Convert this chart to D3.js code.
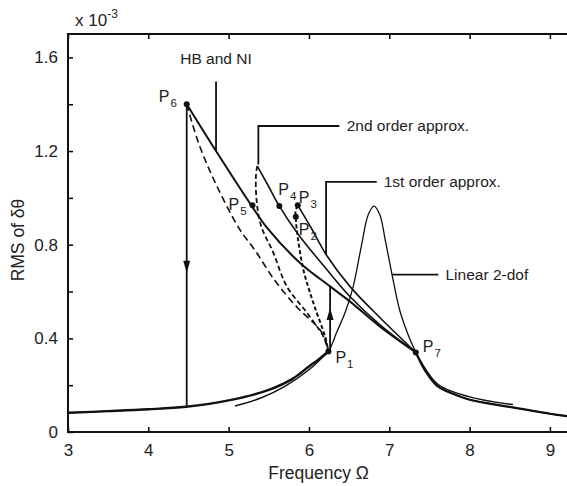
<!DOCTYPE html>
<html>
<head>
<meta charset="utf-8">
<script src="https://cdn.jsdelivr.net/npm/d3@7"></script>
<style>
  body { margin: 0; background: #fff; }
  svg { display: block; font-family: "Liberation Sans", Arial, sans-serif; }
</style>
</head>
<body>
<div id="container"></div>
<script>
/* CONSTANTS AND GLOBALS */
const width = 567,
  height = 486,
  margin = ({top: 34, right: -3, bottom: 54, left: 68});

// tick values
const xTicks = [3, 4, 5, 6, 7, 8, 9];
const yTicks = [0, 0.2, 0.4, 0.6, 0.8, 1.0, 1.2, 1.4, 1.6];
const yLabelTicks = [0, 0.4, 0.8, 1.2, 1.6];

// linear 2-dof response (RMS x 1e-3)
const linearOmega = [3.0, 3.5, 4.0, 4.47, 5.0, 5.5, 5.8, 6.0, 6.12, 6.24, 6.35, 6.45, 6.55, 6.65, 6.74, 6.81, 6.88, 6.95, 7.03, 7.13, 7.23, 7.33, 7.45, 7.6, 7.8, 8.0, 8.5, 9.0, 9.25];
const linearRms   = [0.082, 0.089, 0.097, 0.108, 0.135, 0.18, 0.228, 0.28, 0.31, 0.344, 0.43, 0.51, 0.62, 0.79, 0.93, 0.965, 0.93, 0.82, 0.68, 0.52, 0.42, 0.34, 0.26, 0.196, 0.162, 0.138, 0.107, 0.078, 0.066];

// HB and NI upper branch (P6 -> P7)
const hbOmega = [4.478, 4.843, 5.288, 5.474, 5.889, 6.263, 6.512, 6.885, 7.33];
const hbRms   = [1.40, 1.20, 0.965, 0.874, 0.722, 0.622, 0.557, 0.45, 0.34];
// HB unstable branch (P6 -> P1)
const hbDashOmega = [4.478, 4.63, 4.84, 5.13, 5.34, 5.58, 5.86, 6.14, 6.225, 6.242];
const hbDashRms   = [1.40, 1.23, 1.06, 0.87, 0.77, 0.645, 0.53, 0.435, 0.373, 0.344];

// 2nd order approx.
const o2Omega = [5.357, 5.49, 5.631, 5.868, 6.222, 6.512, 6.885, 7.33];
const o2Rms   = [1.136, 1.054, 0.965, 0.844, 0.694, 0.578, 0.458, 0.34];
const o2DashOmega = [5.357, 5.341, 5.347, 5.403, 5.557, 5.724, 5.973, 6.179, 6.238];
const o2DashRms   = [1.136, 1.101, 0.994, 0.882, 0.765, 0.622, 0.51, 0.408, 0.351];

// 1st order approx.
const o1Omega = [5.861, 6.039, 6.213, 6.512, 6.885, 7.33];
const o1Rms   = [0.968, 0.865, 0.758, 0.621, 0.488, 0.34];
const o1DashOmega = [5.861, 5.833, 5.836, 5.848, 5.93, 6.055, 6.2, 6.242];
const o1DashRms   = [0.968, 0.942, 0.919, 0.865, 0.694, 0.551, 0.408, 0.344];

// lower branches of the approximations
const lowLeftOmega = [5.08, 5.4, 5.7, 6.0, 6.24];
const lowLeftRms   = [0.111, 0.145, 0.195, 0.266, 0.344];
const lowRightOmega = [7.33, 7.6, 8.0, 8.54];
const lowRightRms   = [0.34, 0.205, 0.15, 0.117];

// marked points
const pointNames = ["1", "2", "3", "4", "5", "6", "7"];
const pointOmega = [6.242, 5.836, 5.861, 5.631, 5.297, 4.478, 7.33];
const pointRms   = [0.344, 0.919, 0.968, 0.965, 0.968, 1.40, 0.34];
const pointLabelDx = [7, 3, 1, -1, -24, -28, 7];
const pointLabelDy = [6, 13, -8, -17, -1, -8, -6];

// jumps
const jumpDown = {omega: 4.478, from: 1.40, to: 0.108, tip: 0.68};
const jumpUp = {omega: 6.263, from: 0.344, to: 0.622, tip: 0.53};

let svg, x, y;

const zip = (a, b) => a.map((d, i) => [d, b[i]]);

function init() {
  x = d3.scaleLinear()
    .domain([3, 9.25])
    .range([margin.left, width - margin.right]);

  y = d3.scaleLinear()
    .domain([0, 1.7])
    .range([height - margin.bottom, margin.top]);

  svg = d3.select("#container")
    .append("svg")
    .attr("width", width)
    .attr("height", height)
    .attr("viewBox", [0, 0, width, height]);

  draw();
}

function draw() {
  const line = d3.line()
    .x(d => x(d[0]))
    .y(d => y(d[1]))
    .curve(d3.curveCatmullRom.alpha(0.5));

  const curves = svg.append("g").attr("fill", "none").attr("stroke", "#111");

  // linear 2-dof (thin)
  curves.append("path")
    .attr("d", line(zip(linearOmega, linearRms)))
    .attr("stroke-width", 1.3);

  // HB lower & right stable branches coincide with the linear curve
  const lin = zip(linearOmega, linearRms);
  curves.append("path")
    .attr("d", line(lin.filter(d => d[0] <= 6.24)))
    .attr("stroke-width", 2.4);
  curves.append("path")
    .attr("d", line(lin.filter(d => d[0] >= 7.33)))
    .attr("stroke-width", 2.2);

  // approx lower branches
  curves.append("path")
    .attr("d", line(zip(lowLeftOmega, lowLeftRms)))
    .attr("stroke-width", 1.5);
  curves.append("path")
    .attr("d", line(zip(lowRightOmega, lowRightRms)))
    .attr("stroke-width", 1.5);

  // upper branches
  curves.append("path")
    .attr("d", line(zip(hbOmega, hbRms)))
    .attr("stroke-width", 2);
  curves.append("path")
    .attr("d", line(zip(o2Omega, o2Rms)))
    .attr("stroke-width", 1.6);
  curves.append("path")
    .attr("d", line(zip(o1Omega, o1Rms)))
    .attr("stroke-width", 1.6);

  // unstable branches (dashed)
  curves.append("path")
    .attr("d", line(zip(hbDashOmega, hbDashRms)))
    .attr("stroke-width", 1.6)
    .attr("stroke-dasharray", "7,4");
  curves.append("path")
    .attr("d", line(zip(o2DashOmega, o2DashRms)))
    .attr("stroke-width", 1.8)
    .attr("stroke-dasharray", "5,3");
  curves.append("path")
    .attr("d", line(zip(o1DashOmega, o1DashRms)))
    .attr("stroke-width", 2)
    .attr("stroke-dasharray", "4,2.5");

  // jump lines with arrows
  [jumpDown, jumpUp].forEach(j => {
    curves.append("line")
      .attr("x1", x(j.omega)).attr("x2", x(j.omega))
      .attr("y1", y(j.from)).attr("y2", y(j.to))
      .attr("stroke-width", 1.8);
    const dir = j.to > j.from ? -1 : 1; // screen direction of arrow
    const tx = x(j.omega), ty = y(j.tip);
    svg.append("path")
      .attr("d", `M${tx},${ty} L${tx - 3.5},${ty - dir * 12} L${tx + 3.5},${ty - dir * 12} Z`)
      .attr("fill", "#111");
  });

  // points
  svg.append("g")
    .selectAll("circle")
    .data(pointNames)
    .join("circle")
    .attr("cx", (d, i) => x(pointOmega[i]))
    .attr("cy", (d, i) => y(pointRms[i]))
    .attr("r", 3)
    .attr("fill", "#111");

  const pl = svg.append("g")
    .attr("font-size", 16)
    .attr("fill", "#222")
    .selectAll("text")
    .data(pointNames)
    .join("text")
    .attr("x", (d, i) => x(pointOmega[i]) + pointLabelDx[i])
    .attr("y", (d, i) => y(pointRms[i]) + pointLabelDy[i])
    .attr("dy", "0.35em");
  pl.append("tspan").text("P");
  pl.append("tspan").attr("font-size", 11.5).attr("dy", 5).attr("dx", 1).text(d => d);

  // annotations with leader lines
  const ann = svg.append("g").attr("stroke", "#111").attr("stroke-width", 1.8).attr("fill", "none");
  // HB and NI
  ann.append("path").attr("d", `M${x(4.843)},${y(1.497)} V${y(1.20)}`);
  // 2nd order
  ann.append("path").attr("d", `M${x(6.378)},${y(1.307)} H${x(5.37)} V${y(1.143)}`);
  // 1st order
  ann.append("path").attr("d", `M${x(6.844)},${y(1.068)} H${x(6.213)} V${y(0.758)}`);
  // linear
  ann.append("path").attr("d", `M${x(7.03)},${y(0.672)} H${x(7.61)}`);

  const annText = svg.append("g").attr("font-size", 15.5).attr("fill", "#222");
  annText.append("text").attr("x", x(4.843)).attr("y", y(1.593)).attr("dy", "0.35em")
    .attr("text-anchor", "middle").text("HB and NI");
  annText.append("text").attr("x", x(6.47)).attr("y", y(1.307)).attr("dy", "0.35em").text("2nd order approx.");
  annText.append("text").attr("x", x(6.93)).attr("y", y(1.068)).attr("dy", "0.35em").text("1st order approx.");
  annText.append("text").attr("x", x(7.70)).attr("y", y(0.672)).attr("dy", "0.35em").text("Linear 2-dof");

  // axes (ticks inside)
  svg.append("g")
    .attr("transform", `translate(0,${height - margin.bottom})`)
    .call(d3.axisBottom(x).tickValues(xTicks).tickSize(-5).tickPadding(12).tickFormat(d3.format("d")))
    .call(g => g.select(".domain").remove())
    .call(g => g.selectAll(".tick line").attr("stroke-width", 1.5))
    .call(g => g.selectAll(".tick text").attr("font-size", 17).attr("fill", "#222").attr("font-family", null));

  svg.append("g")
    .attr("transform", `translate(0,${margin.top})`)
    .call(d3.axisTop(x).tickValues(xTicks).tickSize(-5).tickFormat(""))
    .call(g => g.select(".domain").remove())
    .call(g => g.selectAll(".tick line").attr("stroke-width", 1.5));

  svg.append("g")
    .attr("transform", `translate(${margin.left},0)`)
    .call(d3.axisLeft(y).tickValues(yTicks).tickSize(-5).tickPadding(10)
      .tickFormat(d => yLabelTicks.some(v => Math.abs(v - d) < 1e-9) ? (d === 0 ? "0" : d3.format(".1f")(d)) : ""))
    .call(g => g.select(".domain").remove())
    .call(g => g.selectAll(".tick line").attr("stroke-width", 1.5))
    .call(g => g.selectAll(".tick text").attr("font-size", 17).attr("fill", "#222").attr("font-family", null));

  // frame
  svg.append("path")
    .attr("d", `M${width},${margin.top} H${margin.left} V${height - margin.bottom} H${width}`)
    .attr("fill", "none")
    .attr("stroke", "#111")
    .attr("stroke-width", 2);

  // axis titles
  svg.append("text")
    .attr("x", x(6.12))
    .attr("y", 473)
    .attr("dy", "0.35em")
    .attr("text-anchor", "middle")
    .attr("font-size", 17.5)
    .attr("fill", "#222")
    .text("Frequency Ω");

  svg.append("text")
    .attr("transform", `translate(18,${y(0.82)}) rotate(-90)`)
    .attr("dy", "0.35em")
    .attr("text-anchor", "middle")
    .attr("font-size", 17.5)
    .attr("fill", "#222")
    .text("RMS of δθ");

  const sc = svg.append("text")
    .attr("x", 75)
    .attr("y", 26)
    .attr("font-size", 17)
    .attr("fill", "#222");
  sc.append("tspan").text("x 10");
  sc.append("tspan").attr("font-size", 12).attr("dy", -8).text("-3");
}

init();
</script>
</body>
</html>
